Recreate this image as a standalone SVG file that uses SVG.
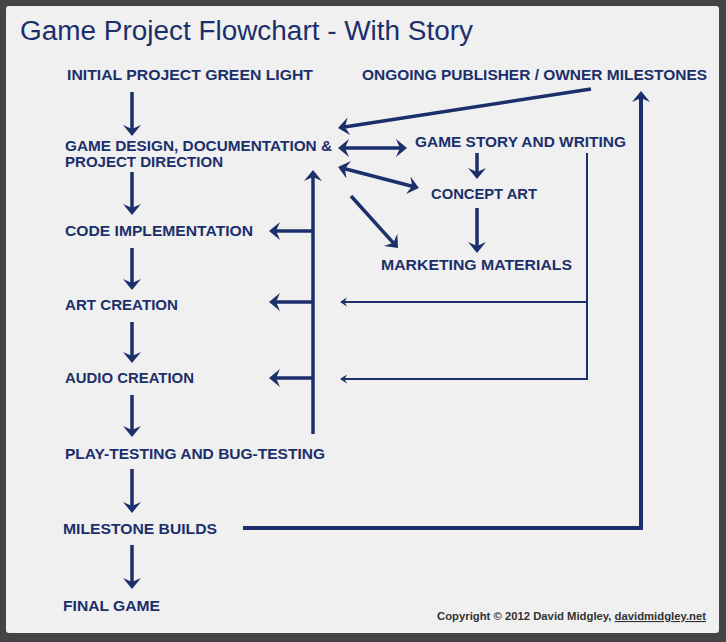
<svg xmlns="http://www.w3.org/2000/svg" width="726" height="642" viewBox="0 0 726 642">
<style>
.lbl{font-family:"Liberation Sans Narrow","Liberation Sans",Arial,sans-serif;font-weight:bold;font-size:15.5px;fill:#1b2f6b;}
.title{font-family:"Liberation Sans Narrow","Liberation Sans",Arial,sans-serif;font-size:27px;fill:#1b2f6b;}
.copy{font-family:"Liberation Sans Narrow","Liberation Sans",Arial,sans-serif;font-weight:bold;font-size:11px;fill:#333;}
.thick{fill:none;stroke:#1b2f6b;stroke-width:3.5;marker-end:url(#ah);}
.thin{fill:none;stroke:#1b2f6b;stroke-width:2;}
.thina{fill:none;stroke:#1b2f6b;stroke-width:2;marker-end:url(#ahs);}
</style>
<defs>
<marker id="ah" markerUnits="userSpaceOnUse" markerWidth="14" markerHeight="20" refX="8" refY="9" orient="auto-start-reverse">
<path d="M0,0 L11,9 L0,18 L4,9 Z" fill="#1b2f6b"/>
</marker>
<marker id="ahs" markerUnits="userSpaceOnUse" markerWidth="10" markerHeight="10" refX="5" refY="4.5" orient="auto">
<path d="M0,0 L7,4.5 L0,9 L2.5,4.5 Z" fill="#1b2f6b"/>
</marker>
</defs>
<rect x="0" y="0" width="726" height="642" fill="#444"/>
<rect x="6" y="6" width="713" height="627" rx="3" fill="#f0f0f0"/>
<text class="title" x="20" y="40" textLength="453" lengthAdjust="spacingAndGlyphs">Game Project Flowchart - With Story</text>

<g id="connectors">
<line class="thick" x1="132" y1="92" x2="132" y2="133"/>
<line class="thick" x1="132" y1="172" x2="132" y2="212"/>
<line class="thick" x1="132" y1="248" x2="132" y2="287"/>
<line class="thick" x1="132" y1="322" x2="132" y2="360"/>
<line class="thick" x1="132" y1="395" x2="132" y2="434"/>
<line class="thick" x1="132" y1="469" x2="132" y2="510"/>
<line class="thick" x1="132" y1="545" x2="132" y2="586"/>
<line class="thick" x1="313" y1="434" x2="313" y2="173"/>
<line class="thick" x1="313" y1="231" x2="272" y2="231"/>
<line class="thick" x1="313" y1="302" x2="272" y2="302"/>
<line class="thick" x1="313" y1="378" x2="272" y2="378"/>
<polyline class="thick" style="stroke-width:4" points="243,528 641,528 641,94"/>
<line class="thick" x1="591" y1="89" x2="341" y2="127.5"/>
<line class="thick" style="marker-start:url(#ah)" x1="341" y1="148" x2="404" y2="148"/>
<line class="thick" style="marker-start:url(#ah)" x1="341" y1="167.8" x2="416" y2="187.2"/>
<line class="thick" x1="351" y1="196" x2="396" y2="245.8"/>
<line class="thick" x1="477" y1="153" x2="477" y2="176"/>
<line class="thick" x1="477" y1="208" x2="477" y2="250"/>
<polyline class="thina" points="587,153 587,379 342,379"/>
<line class="thina" x1="587" y1="302" x2="342" y2="302"/>
</g>

<g id="n-greenlight"><text class="lbl" x="67" y="80" textLength="246" lengthAdjust="spacingAndGlyphs">INITIAL PROJECT GREEN LIGHT</text></g>
<g id="n-publisher"><text class="lbl" x="362" y="80" textLength="345" lengthAdjust="spacingAndGlyphs">ONGOING PUBLISHER / OWNER MILESTONES</text></g>
<g id="n-design">
<text class="lbl" x="65" y="151" textLength="267" lengthAdjust="spacingAndGlyphs">GAME DESIGN, DOCUMENTATION &amp;</text>
<text class="lbl" x="65" y="167" textLength="158" lengthAdjust="spacingAndGlyphs">PROJECT DIRECTION</text>
</g>
<g id="n-story"><text class="lbl" x="415" y="147" textLength="211" lengthAdjust="spacingAndGlyphs">GAME STORY AND WRITING</text></g>
<g id="n-concept"><text class="lbl" x="431" y="199" textLength="106" lengthAdjust="spacingAndGlyphs">CONCEPT ART</text></g>
<g id="n-marketing"><text class="lbl" x="381" y="270" textLength="191" lengthAdjust="spacingAndGlyphs">MARKETING MATERIALS</text></g>
<g id="n-code"><text class="lbl" x="65" y="236" textLength="188" lengthAdjust="spacingAndGlyphs">CODE IMPLEMENTATION</text></g>
<g id="n-art"><text class="lbl" x="65" y="310" textLength="113" lengthAdjust="spacingAndGlyphs">ART CREATION</text></g>
<g id="n-audio"><text class="lbl" x="65" y="383" textLength="129" lengthAdjust="spacingAndGlyphs">AUDIO CREATION</text></g>
<g id="n-testing"><text class="lbl" x="65" y="459" textLength="260" lengthAdjust="spacingAndGlyphs">PLAY-TESTING AND BUG-TESTING</text></g>
<g id="n-milestone"><text class="lbl" x="63" y="534" textLength="154" lengthAdjust="spacingAndGlyphs">MILESTONE BUILDS</text></g>
<g id="n-final"><text class="lbl" x="63" y="611" textLength="97" lengthAdjust="spacingAndGlyphs">FINAL GAME</text></g>

<text class="copy" x="437" y="620" textLength="269" lengthAdjust="spacingAndGlyphs">Copyright © 2012 David Midgley, <tspan text-decoration="underline">davidmidgley.net</tspan></text>
</svg>
